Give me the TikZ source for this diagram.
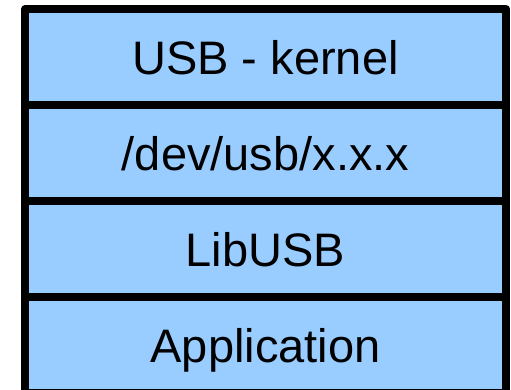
\documentclass[tikz,border=0pt]{standalone}
\usepackage{fontspec}
\setmainfont{Liberation Sans}
\definecolor{layerblue}{RGB}{153,204,255}
\begin{document}
\begin{tikzpicture}[x=1bp,y=-1bp,
  layer/.style={draw=black, fill=layerblue, line width=8bp, line join=round,
    rectangle, minimum width=481bp, minimum height=96bp, inner sep=0pt,
    text height=34bp, text depth=0bp,
    font=\fontsize{47bp}{56bp}\selectfont, text=black}]
  \useasboundingbox (0,0) rectangle (511,389);
  \clip (0,0) rectangle (511,389);
  % protocol stack, top to bottom
  \node[layer] (kernel) at (265.5,57) {USB - kernel};
  \node[layer] (dev)    at (265.5,153) {/dev/usb/x.x.x};
  \node[layer] (libusb) at (265.5,249) {LibUSB};
  \node[layer] (app)    at (265.5,345) {Application};
\end{tikzpicture}
\end{document}
